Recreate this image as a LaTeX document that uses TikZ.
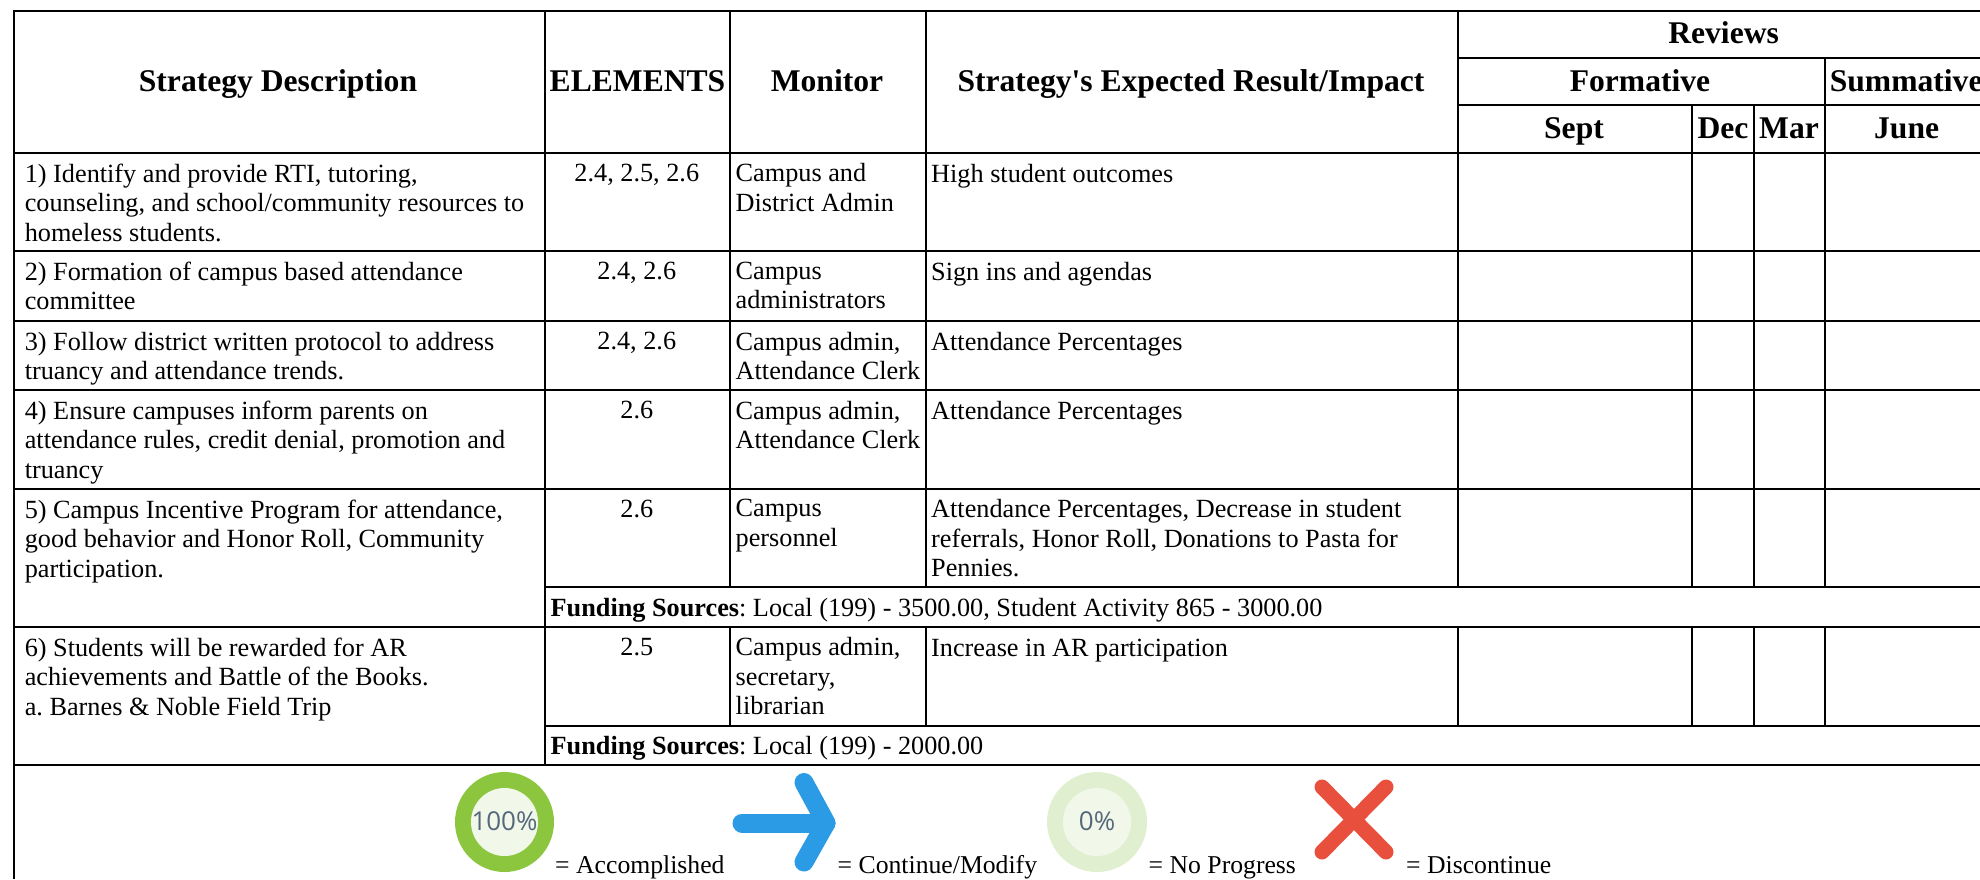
\documentclass[tikz,border=0pt]{standalone}
\usepackage{fontspec}
\setmainfont{Liberation Serif}
\newfontfamily\iconfont{Open Sans}
\definecolor{ringgreen}{HTML}{8CC63F}
\definecolor{ringpale}{HTML}{E0EFD0}
\definecolor{innerpale}{HTML}{F1F8EA}
\definecolor{arrowblue}{HTML}{2B9BE6}
\definecolor{crossred}{HTML}{E94F3D}
\definecolor{pcttext}{HTML}{55677A}
\frenchspacing
\tikzset{
  body/.style={inner sep=0pt,anchor=north west,yshift=19.6pt,align=left,font=\fontsize{26.25}{29.5}\selectfont\frenchspacing,execute at begin node={\rule{0pt}{20pt}}},
  mline/.style={body,yshift=-1.3pt},
  mid/.style={inner sep=0pt,anchor=base,yshift=0.4pt,align=center,font=\fontsize{26.25}{29.5}\selectfont\frenchspacing},
  lgnd/.style={inner sep=0pt,anchor=base west,font=\fontsize{25.7}{29.4}\selectfont},
  head/.style={inner sep=0pt,anchor=base,font=\fontsize{31.6}{36}\selectfont\bfseries},
  hrule/.style={line width=2.1pt,black},
  vrule/.style={line width=2pt,black},
  pct/.style={inner sep=0pt,anchor=base,text=pcttext,font=\fontsize{26}{30}\selectfont\iconfont}
}
\begin{document}
\begin{tikzpicture}[x=1pt,y=-1pt]
\useasboundingbox (0,0) rectangle (1980,879);
\clip (0,0) rectangle (1980,879);
% horizontal rules
\foreach \y in {10.7,153,251.3,321,389.8,488.7,626.7,765} \draw[hrule] (13,\y) -- (1980,\y);
\foreach \y in {586.7,725.7} \draw[hrule] (545,\y) -- (1980,\y);
\foreach \y in {58,105} \draw[hrule] (1458,\y) -- (1980,\y);
% vertical rules
\draw[vrule] (14,9.6) -- (14,879);
\draw[vrule] (545,10.7) -- (545,765);
\foreach \x in {730,926,1458} {
  \draw[vrule] (\x,10.7) -- (\x,586.7);
  \draw[vrule] (\x,626.7) -- (\x,725.7);
}
\draw[vrule] (1824.6,58) -- (1824.6,586.7);
\draw[vrule] (1824.6,626.7) -- (1824.6,725.7);
\foreach \x in {1692,1754} {
  \draw[vrule] (\x,105) -- (\x,586.7);
  \draw[vrule] (\x,626.7) -- (\x,725.7);
}
% header
\node[head] (hdesc) at (278,91.5) {Strategy Description};
\node[head] (helem) at (637.5,91.5) {ELEMENTS};
\node[head] (hmon) at (827,91.5) {Monitor};
\node[head] (hres) at (1191,91.5) {Strategy\textquotesingle s Expected Result/Impact};
\node[head] (hrev) at (1723.6,43) {Reviews};
\node[head] (hform) at (1640,91.5) {Formative};
\node[head,anchor=base west] (hsum) at (1829.6,91.5) {Summative};
\node[head] (hsept) at (1574,138) {Sept};
\node[head] (hdec) at (1723,138) {Dec};
\node[head] (hmar) at (1789,138) {Mar};
\node[head] (hjune) at (1906.6,138) {June};
% row 1
\node[mline] (d1) at (24.6,181.7) {1) Identify and provide RTI, tutoring,\\counseling, and school/community resources to\\homeless students.};
\node[mid] (e1) at (636.8,181.7) {2.4, 2.5, 2.6};
\node[mline] (m1) at (735.5,181.7) {Campus and\\District Admin};
\node[body] (r1) at (931,181.7) {High student outcomes};
% row 2
\node[mline] (d2) at (24.6,280) {2) Formation of campus based attendance\\committee};
\node[mid] (e2) at (636.8,280) {2.4, 2.6};
\node[mline] (m2) at (735.5,280) {Campus\\administrators};
\node[body] (r2) at (931,280) {Sign ins and agendas};
% row 3
\node[mline] (d3) at (24.6,350) {3) Follow district written protocol to address\\truancy and attendance trends.};
\node[mid] (e3) at (636.8,350) {2.4, 2.6};
\node[mline] (m3) at (735.5,350) {Campus admin,\\Attendance Clerk};
\node[body] (r3) at (931,350) {Attendance Percentages};
% row 4
\node[mline] (d4) at (24.6,419) {4) Ensure campuses inform parents on\\attendance rules, credit denial, promotion and\\truancy};
\node[mid] (e4) at (636.8,419) {2.6};
\node[mline] (m4) at (735.5,419) {Campus admin,\\Attendance Clerk};
\node[body] (r4) at (931,419) {Attendance Percentages};
% row 5
\node[mline] (d5) at (24.6,517.7) {5) Campus Incentive Program for attendance,\\good behavior and Honor Roll, Community\\participation.};
\node[mid] (e5) at (636.8,517.7) {2.6};
\node[mline] (m5) at (735.5,517.7) {Campus\\personnel};
\node[mline] (r5) at (931,517.7) {Attendance Percentages, Decrease in student\\referrals, Honor Roll, Donations to Pasta for\\Pennies.};
\node[body] (f5) at (550.5,615.7) {\textbf{Funding Sources}: Local (199) - 3500.00, Student Activity 865 - 3000.00};
% row 6
\node[mline] (d6) at (24.6,655.7) {6) Students will be rewarded for AR\\achievements and Battle of the Books.\\a. Barnes \& Noble Field Trip};
\node[mid] (e6) at (636.8,655.7) {2.5};
\node[mline] (m6) at (735.5,655.7) {Campus admin,\\secretary,\\librarian};
\node[body] (r6) at (931,655.7) {Increase in AR participation};
\node[body] (f6) at (550.5,754) {\textbf{Funding Sources}: Local (199) - 2000.00};
% legend: 100%
\fill[ringgreen] (504.5,822) ellipse [x radius=49.5,y radius=50];
\fill[innerpale] (504.5,822) ellipse [x radius=33.5,y radius=34];
\node[pct] (p100) at (504.5,830.5) {100\%};
\node[lgnd] (l1) at (555,873) {= Accomplished};
% arrow
\draw[arrowblue,line width=19pt,line cap=round,line join=round] (742,823) -- (826,823);
\draw[arrowblue,line width=19pt,line cap=round,line join=round] (804,782.5) -- (826,823) -- (804,862);
\node[lgnd] (l2) at (837.5,873) {= Continue/Modify};
% 0%
\fill[ringpale] (1097,822) ellipse [x radius=50,y radius=50];
\fill[innerpale] (1097,822) ellipse [x radius=34,y radius=34];
\node[pct] (p0) at (1097,830.5) {0\%};
\node[lgnd] (l3) at (1148.5,873) {= No Progress};
% cross
\draw[crossred,line width=15pt,line cap=round] (1322,787) -- (1386,852);
\draw[crossred,line width=15pt,line cap=round] (1386,787) -- (1322,852);
\node[lgnd] (l4) at (1406,873) {= Discontinue};
\end{tikzpicture}
\end{document}
